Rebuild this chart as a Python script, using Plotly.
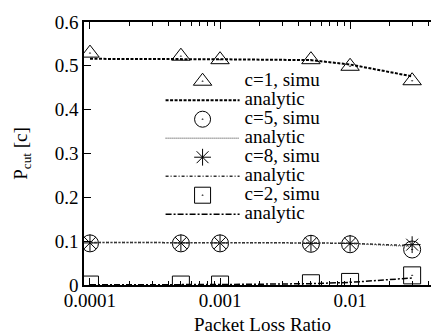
import plotly.graph_objects as go

# Data
loss_ratio = [0.0001, 0.0005, 0.001, 0.005, 0.01, 0.03]

c1_simu = [0.529, 0.522, 0.514, 0.514, 0.499, 0.466]
c1_analytic = [0.516, 0.516, 0.515, 0.513, 0.503, 0.476]
c5_simu = [0.095, 0.095, 0.095, 0.094, 0.093, 0.081]
c5_analytic = [0.097, 0.097, 0.097, 0.096, 0.095, 0.088]
c8_simu = [0.096, 0.096, 0.096, 0.095, 0.095, 0.092]
c8_analytic = [0.097, 0.097, 0.097, 0.096, 0.095, 0.090]
c2_simu = [0.001, 0.001, 0.001, 0.004, 0.007, 0.022]
c2_analytic = [0.0005, 0.0006, 0.001, 0.003, 0.006, 0.016]

x_tick_vals = [0.0001, 0.001, 0.01]
x_tick_text = ["0.0001", "0.001", "0.01"]
y_tick_vals = [0, 0.1, 0.2, 0.3, 0.4, 0.5, 0.6]
y_tick_text = ["0", "0.1", "0.2", "0.3", "0.4", "0.5", "0.6"]

FONT = "Liberation Serif, DejaVu Serif, serif"
BIG = 19


def lbl(s):
    return f"<span style='font-size:{BIG}px'>{s}</span>"


fig = go.Figure()


def simu(y, name, symbol, size):
    fig.add_trace(go.Scatter(
        x=loss_ratio, y=y, mode="markers", name=lbl(name),
        marker=dict(symbol=symbol, size=size, color="black",
                    line=dict(color="black", width=1)),
    ))


def analytic(y, dash, color, width):
    fig.add_trace(go.Scatter(
        x=loss_ratio, y=y, mode="lines", name=lbl("analytic"),
        line=dict(color=color, width=width, dash=dash),
    ))


simu(c1_simu, "c=1, simu", "triangle-up-open-dot", 16)
analytic(c1_analytic, "3px,1.5px", "black", 2)
simu(c5_simu, "c=5, simu", "circle-open-dot", 17)
analytic(c5_analytic, "1px,1px", "#777777", 1.5)
simu(c8_simu, "c=8, simu", "asterisk-open", 14)
analytic(c8_analytic, "3px,2px,1px,2px", "#333333", 1.5)
simu(c2_simu, "c=2, simu", "square-open-dot", 17)
analytic(c2_analytic, "6px,2px,2px,2px", "black", 1.5)

minor_x = [m * 10 ** e for e in (-5, -4, -3, -2) for m in range(2, 10)]

fig.update_layout(
    width=439, height=335,
    margin=dict(l=76, r=4, t=14, b=58),
    paper_bgcolor="white", plot_bgcolor="white",
    font=dict(family=FONT, size=BIG, color="black"),
    showlegend=True,
    legend=dict(
        x=0.2145, y=0.83, xanchor="left", yanchor="top",
        bgcolor="rgba(0,0,0,0)", borderwidth=0,
        font=dict(family=FONT, size=12, color="black"),
        itemwidth=74, tracegroupgap=0, traceorder="normal",
    ),
    xaxis=dict(
        type="log", range=[-4.046, -1.301],
        tickvals=x_tick_vals, ticktext=x_tick_text,
        ticks="inside", ticklen=7, tickcolor="black", tickwidth=1,
        minor=dict(ticks="inside", ticklen=4, tickcolor="black", tickwidth=1,
                   tickvals=minor_x, showgrid=False),
        showline=True, linecolor="black", linewidth=1.5, mirror="ticks",
        showgrid=False, zeroline=False,
        title=dict(text="Packet Loss Ratio", font=dict(size=BIG), standoff=8),
        tickfont=dict(size=BIG),
        ticklabelstandoff=-3,
    ),
    yaxis=dict(
        range=[0, 0.6],
        tickvals=y_tick_vals, ticktext=y_tick_text,
        ticks="inside", ticklen=7, tickcolor="black", tickwidth=1,
        showline=True, linecolor="black", linewidth=1.5, mirror="ticks",
        showgrid=False, zeroline=False,
        title=dict(text="P<sub>cut</sub> [c]", font=dict(size=BIG), standoff=22),
        tickfont=dict(size=BIG),
    ),
)

fig.write_html("out.html")
